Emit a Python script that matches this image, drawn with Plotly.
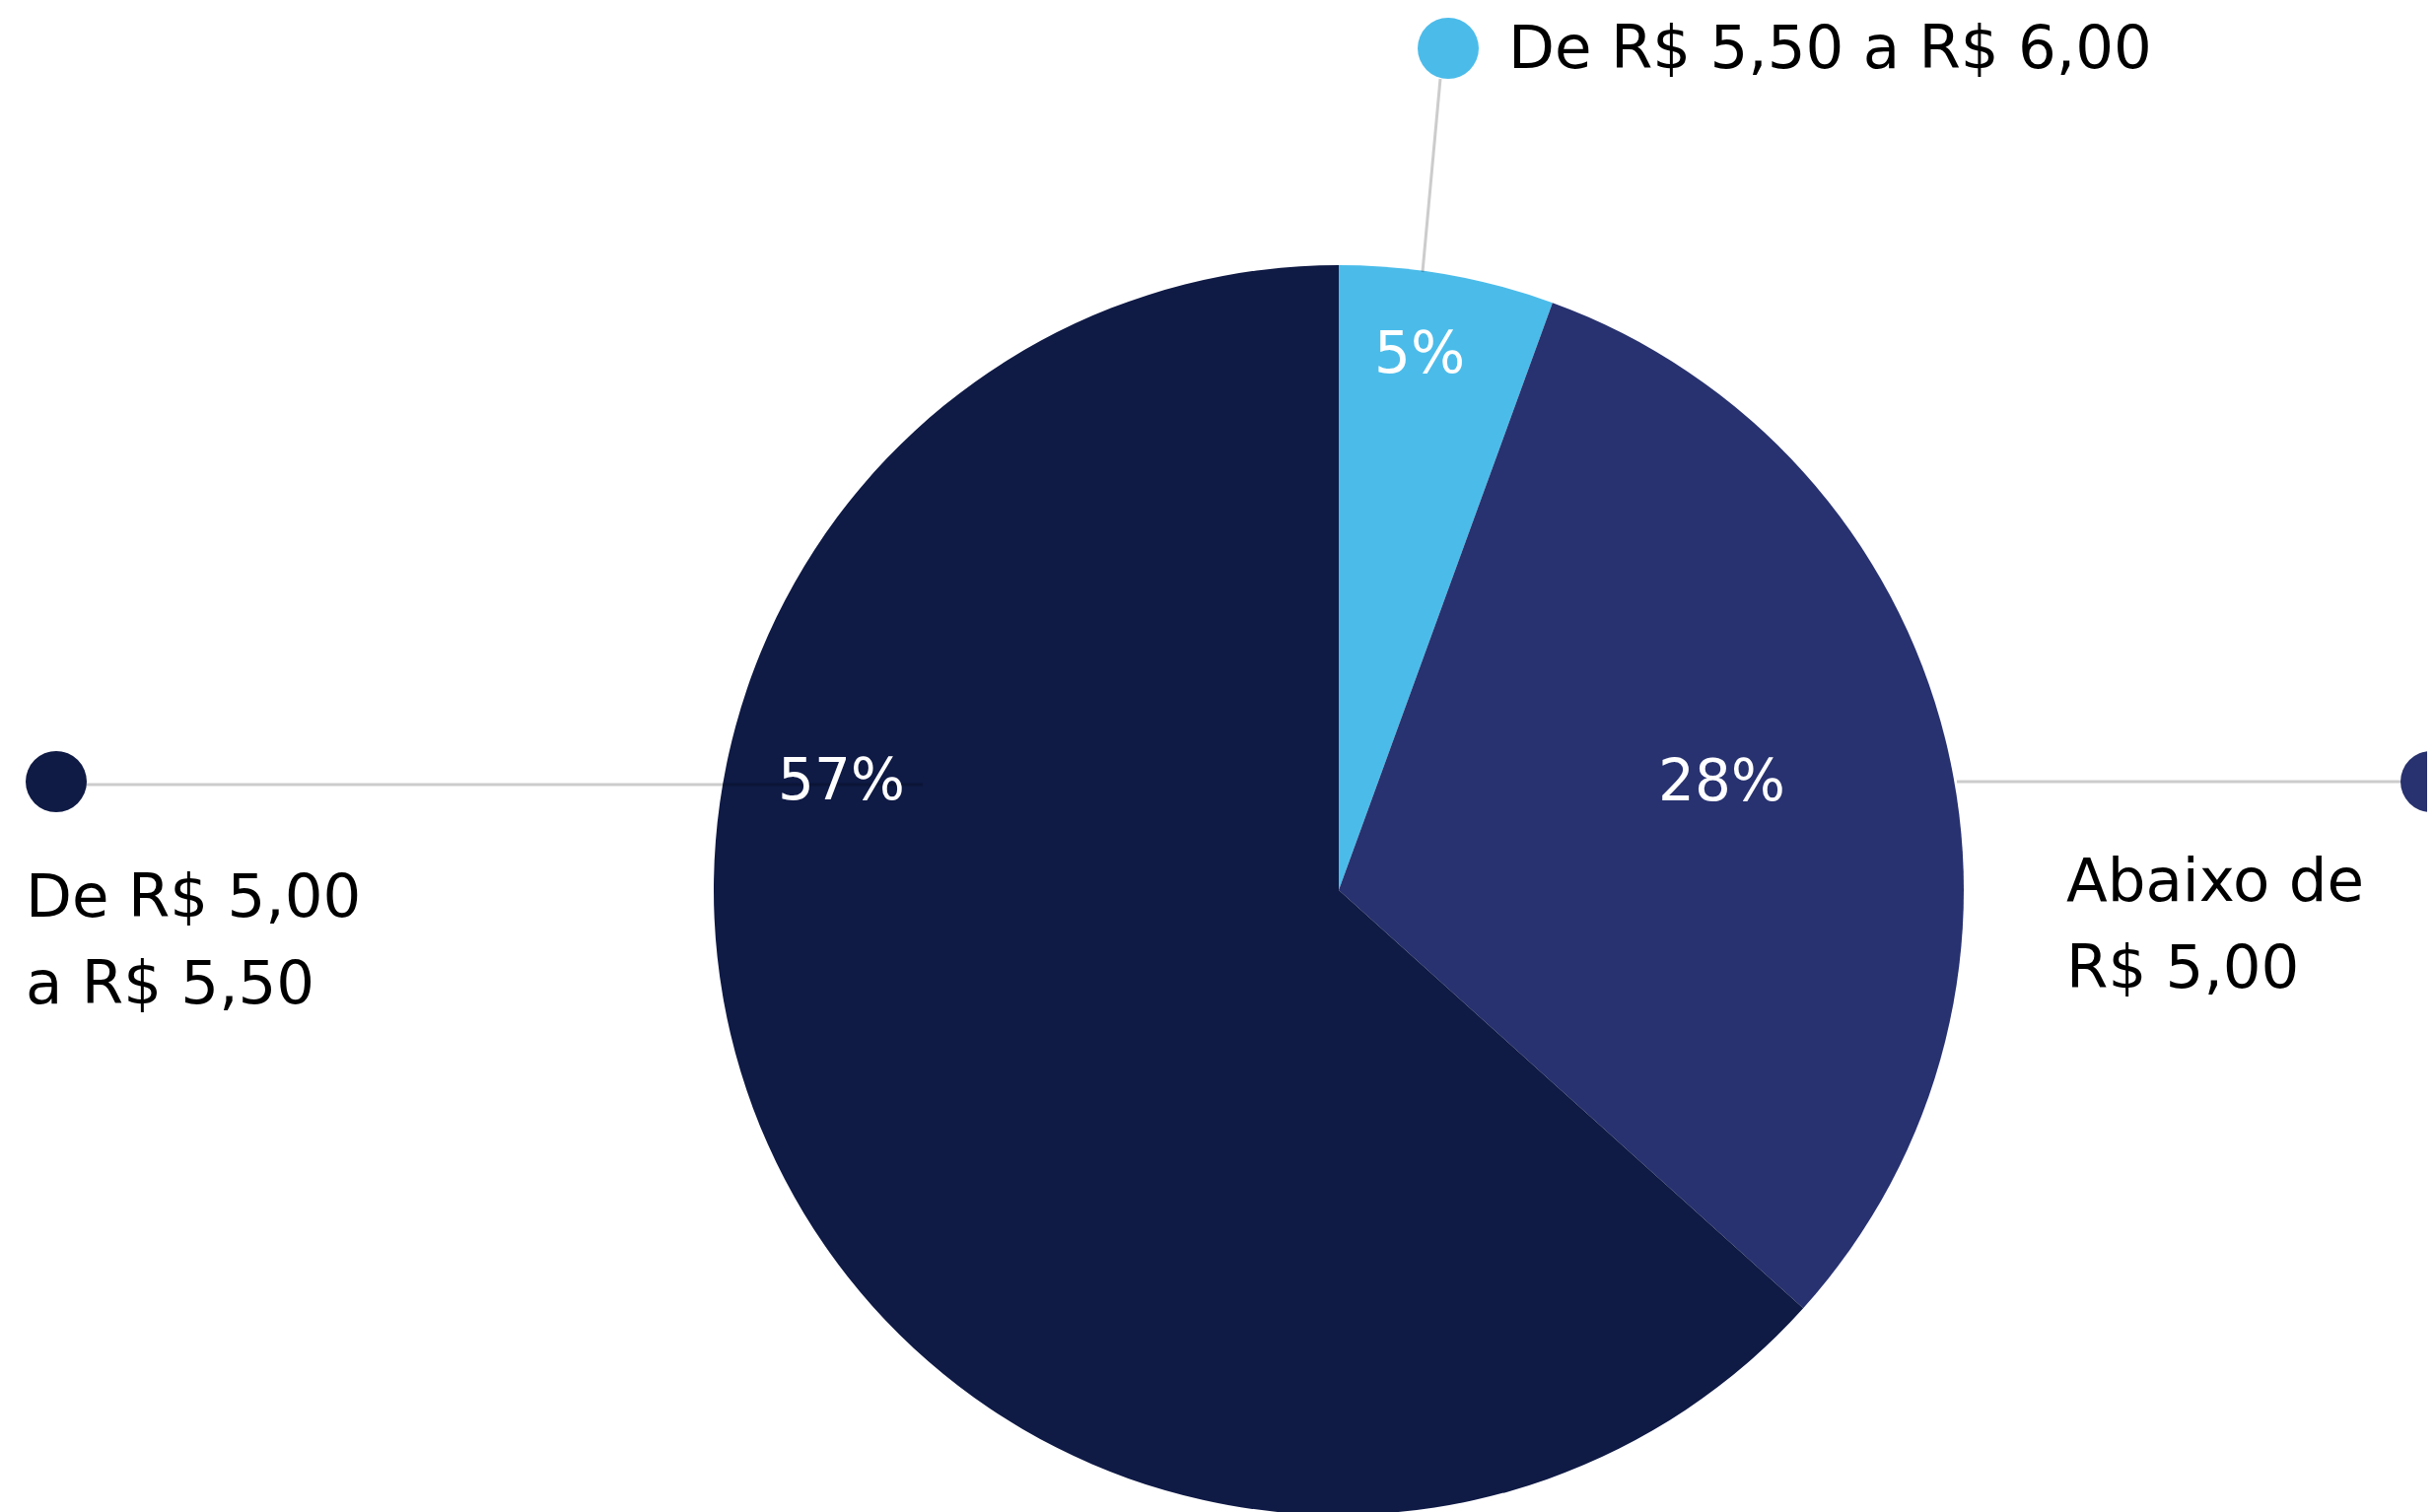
import plotly.graph_objects as go

# data
labels = ["De R$ 5,50 a R$ 6,00", "Abaixo de<br>R$ 5,00", "De R$ 5,00<br>a R$ 5,50"]
values = [5, 28, 57]
colors = ["#4bbcea", "#283270", "#0f1a45"]

W, H = 2470, 1534
OFF = 8  # page body margin, so positions below are in page pixels
FONT = "DejaVu Sans, sans-serif"
LINE = "rgba(0,0,0,0.2)"

# label layout (pixel positions on the page)
pct_pos = [(1440, 358), (1746, 792), (853, 791)]
name_pos = [(1528, 47), (2094, 892), (24, 908)]
name_gap = 88
dot_pos = [(1469, 49), (2466, 793), (57, 793)]
leaders = [((1461, 80), (1443, 276)), ((1985, 793), (2440, 793)), ((57, 796), (936, 796))]

fig = go.Figure()
fig.add_trace(go.Pie(
    values=values, labels=labels, sort=False, direction="clockwise", rotation=0,
    marker=dict(colors=colors, line=dict(width=0)),
    textinfo="none", hoverinfo="skip", showlegend=False,
    domain=dict(x=[716 / W, 1984 / W], y=[5 / H, 1 - 261 / H]),
))

shapes = []
for (x0, y0), (x1, y1) in leaders:
    shapes.append(dict(type="line", xref="x", yref="y", x0=x0, y0=y0, x1=x1, y1=y1,
                       line=dict(color=LINE, width=3), layer="above"))
for (cx, cy), c in zip(dot_pos, colors):
    shapes.append(dict(type="circle", xref="x", yref="y", x0=cx - 31, x1=cx + 31,
                       y0=cy - 31, y1=cy + 31, fillcolor=c, line=dict(width=0), layer="above"))

annotations = []
for v, (x, y) in zip(values, pct_pos):
    annotations.append(dict(text=f"{v}%", x=x, y=y, xref="x", yref="y", showarrow=False,
                            xanchor="center", yanchor="middle",
                            font=dict(family=FONT, size=58, color="white")))
for t, (x, y) in zip(labels, name_pos):
    for i, part in enumerate(t.split("<br>")):
        annotations.append(dict(text=part, x=x, y=y + i * name_gap, xref="x", yref="y",
                                showarrow=False, xanchor="left", yanchor="middle",
                                font=dict(family=FONT, size=61, color="black")))

fig.update_layout(
    width=W, height=H,
    margin=dict(l=0, r=0, t=0, b=0),
    paper_bgcolor="white", plot_bgcolor="rgba(0,0,0,0)",
    xaxis=dict(range=[OFF, W + OFF], visible=False, fixedrange=True),
    yaxis=dict(range=[H + OFF, OFF], visible=False, fixedrange=True),
    shapes=shapes, annotations=annotations,
)

fig.write_html("out.html")
